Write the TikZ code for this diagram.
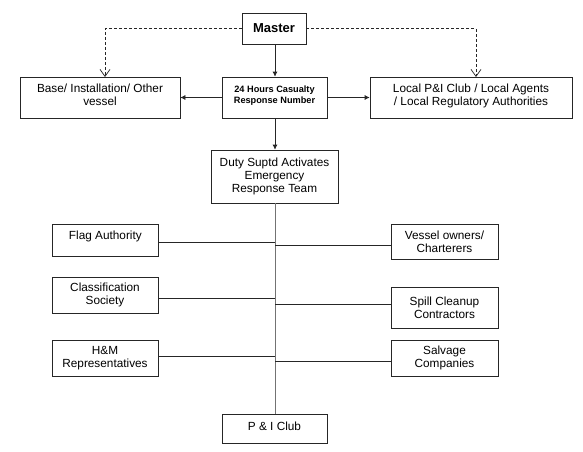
\documentclass[tikz,border=0pt]{standalone}
\usepackage{fontspec}
\setmainfont{Liberation Sans}
\usetikzlibrary{arrows.meta,positioning}
\begin{document}
\begin{tikzpicture}[x=1pt,y=-1pt,
  box/.style={draw=black!85,line width=0.7pt,inner sep=0pt,align=center,font=\fontsize{11.8}{13.4}\selectfont},
  conn/.style={draw=black!85,line width=0.7pt},
  arr/.style={conn,-{Latex[length=5pt,width=5pt]}},
  darr/.style={conn,dashed,dash pattern=on 3pt off 2pt,-{Straight Barb[length=7pt,width=10pt,line width=0.7pt]}},
  spine/.style={draw=black!55,line width=0.9pt}]
\useasboundingbox[fill=white] (0,0) rectangle (583,451);
\node[box,minimum width=64pt,minimum height=31pt,font=\fontsize{13}{15}\selectfont\bfseries] (master) at (274,28.5) {Master};
\node[box,minimum width=160pt,minimum height=41pt,text depth=6pt] (base) at (100,97.5) {Base/ Installation/ Other\\vessel};
\node[box,minimum width=105pt,minimum height=41pt,font=\fontsize{9.2}{11}\selectfont\bfseries,text depth=6pt] (hotline) at (274.5,97.5) {24 Hours Casualty\\Response Number};
\node[box,minimum width=202pt,minimum height=41pt,text depth=6pt] (local) at (471,97.5) {Local P\&I Club / Local Agents\\/ Local Regulatory Authorities};
\node[box,minimum width=127pt,minimum height=53pt] (duty) at (274.5,176.5) {Duty Suptd Activates\\Emergency\\Response Team};
\node[box,minimum width=106pt,minimum height=32pt,anchor=north west,text depth=11pt] (flag) at (52,224) {Flag Authority};
\node[box,minimum width=106pt,minimum height=36pt] (class) at (105,295) {Classification\\Society};
\node[box,minimum width=106pt,minimum height=36pt] (hm) at (105,358) {H\&M\\Representatives};
\node[box,minimum width=107pt,minimum height=35pt] (vessel) at (444.5,241.5) {Vessel owners/\\Charterers};
\node[box,minimum width=107pt,minimum height=41pt] (spill) at (444.5,307.5) {Spill Cleanup\\Contractors};
\node[box,minimum width=107pt,minimum height=36pt] (salv) at (444.5,358) {Salvage\\Companies};
\node[box,minimum width=105pt,minimum height=29pt,text depth=5pt] (pni) at (274.5,428.5) {P \& I Club};
\coordinate (bt) at (105,77);
\coordinate (lt) at (476,77);
\coordinate (sp) at (275,0);
\coordinate (cf) at (275,242);
\coordinate (cc) at (275,298);
\coordinate (ch) at (275,356);
\coordinate (cv) at (275,245);
\coordinate (cs) at (275,304);
\coordinate (cg) at (275,361);
% arrows
\draw[arr] (master.south -| sp) -- (hotline.north -| sp);
\draw[arr] (hotline.west) -- (base.east);
\draw[arr] (hotline.east) -- (local.west);
\draw[arr] (hotline.south -| sp) -- (duty.north -| sp);
\draw[darr] (master.west) -| (bt);
\draw[darr] (master.east) -| (lt);
% spine
\draw[spine] (duty.south -| sp) -- (pni.north -| sp);
\draw[conn] (flag.east |- cf) -- (cf);
\draw[conn] (class.east |- cc) -- (cc);
\draw[conn] (hm.east |- ch) -- (ch);
\draw[conn] (vessel.west |- cv) -- (cv);
\draw[conn] (spill.west |- cs) -- (cs);
\draw[conn] (salv.west |- cg) -- (cg);
\end{tikzpicture}
\end{document}
